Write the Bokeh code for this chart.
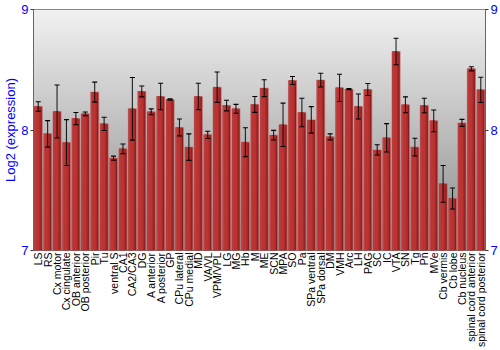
import math
import numpy as np
from bokeh.plotting import figure
from bokeh.models import Range1d, LinearAxis, FixedTicker, Whisker, ColumnDataSource, TeeHead
from bokeh.transform import dodge
from bokeh.embed import file_html
from bokeh.resources import INLINE

regions = ["LS", "RS", "Cx motor", "Cx cingulate", "OB anterior", "OB posterior", "Pir", "Tu",
           "ventral S", "CA1", "CA2/CA3", "DG", "A anterior", "A posterior", "GP", "CPu lateral",
           "CPu medial", "MD", "VA/VL", "VPM/VPL", "LG", "MG", "Hb", "M", "ME", "SCN", "MPA", "SO",
           "Pa", "SPa ventral", "SPa dorsal", "DM", "VMH", "Arc", "LH", "PAG", "SC", "IC", "VTA",
           "SN", "Tg", "Pn", "MVe", "Cb vermis", "Cb lobe", "Cb nucleus", "spinal cord anterior",
           "spinal cord posterior"]
expression = [8.195, 7.968, 8.153, 7.896, 8.095, 8.134, 8.314, 8.051,
              7.766, 7.844, 8.176, 8.320, 8.151, 8.278, 8.253, 8.021,
              7.858, 8.278, 7.960, 8.355, 8.203, 8.176, 7.899, 8.212, 8.347, 7.957, 8.043, 8.411,
              8.145, 8.084, 8.414, 7.943, 8.350, 8.339, 8.195, 8.336, 7.835, 7.935, 8.651,
              8.209, 7.858, 8.203, 8.076, 7.553, 7.432, 8.059, 8.508,
              8.333]
error = [0.04, 0.11, 0.22, 0.19, 0.05, 0.015, 0.083, 0.055,
         0.017, 0.04, 0.26, 0.045, 0.024, 0.11, 0.005, 0.07,
         0.11, 0.11, 0.03, 0.126, 0.044, 0.037, 0.12, 0.066, 0.07, 0.04, 0.18, 0.033,
         0.118, 0.11, 0.057, 0.025, 0.113, 0.004, 0.104, 0.05, 0.043, 0.118, 0.11,
         0.066, 0.073, 0.06, 0.09, 0.152, 0.087, 0.029, 0.017,
         0.105]
y_ticks = [7, 8, 9]

FONT = "Liberation Sans"
BLUE = "#0000ff"

idx = list(range(len(regions)))
src = ColumnDataSource(dict(
    x=idx, top=expression,
    upper=[v + e for v, e in zip(expression, error)],
    lower=[v - e for v, e in zip(expression, error)],
))

p = figure(width=500, height=350, output_backend="svg", toolbar_location=None,
           x_range=Range1d(-0.5, len(regions) - 0.5), y_range=Range1d(7, 9),
           min_border_left=28, min_border_right=14, min_border_top=9, min_border_bottom=98,
           background_fill_color="white", border_fill_color="white")
p.outline_line_color = "#666666"

# background vertical gradient
n = 200
g = np.linspace(0x8a, 0xf2, n).astype(np.uint8)
img = np.zeros((n, 1, 4), dtype=np.uint8)
img[:, 0, 0] = g
img[:, 0, 1] = g
img[:, 0, 2] = g
img[:, 0, 3] = 255
img32 = img.view(dtype=np.uint32).reshape((n, 1))
p.image_rgba(image=[img32], x=-0.5, y=7, dw=len(regions), dh=2)

p.ygrid.ticker = FixedTicker(ticks=[8])
p.ygrid.grid_line_color = "white"
p.ygrid.grid_line_width = 1.5
p.xgrid.grid_line_color = None

# bars with a faux horizontal gradient
p.vbar(x="x", top="top", bottom=7, width=0.86, source=src, fill_color="#8a1c1c",
       line_color="#c87070", line_alpha=0.7, line_width=1)
p.vbar(x=dodge("x", -0.06, range=p.x_range), top="top", bottom=7, width=0.66, source=src,
       fill_color="#a82a2a", line_color=None)
p.vbar(x=dodge("x", -0.12, range=p.x_range), top="top", bottom=7, width=0.46, source=src,
       fill_color="#bb3434", line_color=None)
p.vbar(x=dodge("x", -0.34, range=p.x_range), top="top", bottom=7, width=0.08, source=src,
       fill_color="#c04848", line_color=None)

w = Whisker(base="x", upper="upper", lower="lower", source=src, line_color="black",
            line_width=1.1, line_alpha=0.85, level="overlay")
w.upper_head = TeeHead(size=5, line_color="black", line_width=1.1)
w.lower_head = TeeHead(size=5, line_color="black", line_width=1.1)
p.add_layout(w)

# left axis
p.yaxis.ticker = FixedTicker(ticks=y_ticks)
p.yaxis.axis_label = "Log2 (expression)"
p.yaxis.axis_label_text_color = BLUE
p.yaxis.axis_label_text_font = FONT
p.yaxis.axis_label_text_font_size = "13px"
p.yaxis.axis_label_text_font_style = "normal"
p.yaxis.axis_label_standoff = 0
p.yaxis.major_label_text_color = BLUE
p.yaxis.major_label_text_font = FONT
p.yaxis.major_label_text_font_size = "13px"
p.yaxis.major_label_standoff = 2
p.yaxis.axis_line_color = "#666666"
p.yaxis.major_tick_line_color = "#333333"
p.yaxis.major_tick_out = 3
p.yaxis.major_tick_in = 0
p.yaxis.minor_tick_line_color = None
p.yaxis.minor_tick_out = 0

# right axis
ra = LinearAxis(ticker=FixedTicker(ticks=y_ticks), major_label_text_color=BLUE,
                major_label_text_font=FONT, major_label_text_font_size="13px",
                major_label_standoff=2, axis_line_color="#666666",
                major_tick_line_color="#333333", major_tick_out=3, major_tick_in=0,
                minor_tick_line_color=None, minor_tick_out=0)
p.add_layout(ra, "right")

# bottom axis
p.xaxis.ticker = FixedTicker(ticks=idx)
p.xaxis.major_label_overrides = {i: r for i, r in enumerate(regions)}
p.xaxis.major_label_orientation = math.pi / 2
p.xaxis.major_label_text_font = FONT
p.xaxis.major_label_text_font_size = "10.5px"
p.xaxis.major_label_text_color = "black"
p.xaxis.major_label_standoff = 2
p.xaxis.axis_label_standoff = 0
p.xaxis.axis_line_color = None
p.xaxis.major_tick_line_color = None
p.xaxis.minor_tick_line_color = None
p.xaxis.major_tick_out = 0
p.xaxis.minor_tick_out = 0
p.xaxis.major_tick_in = 0
p.xaxis.minor_tick_in = 0

open("out.html", "w").write(file_html(p, INLINE))
